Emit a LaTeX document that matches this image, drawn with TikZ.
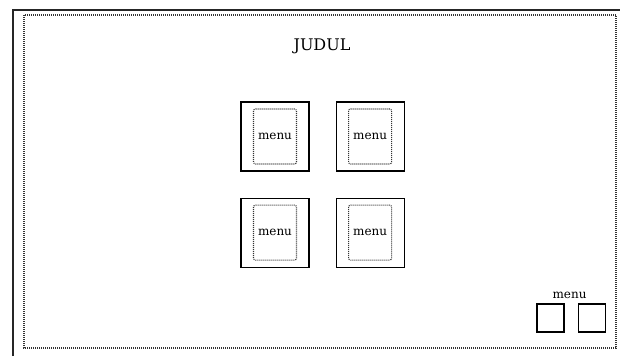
\documentclass[tikz,border=0pt]{standalone}
\usepackage{fontspec}
\setmainfont{DejaVu Serif}
\usetikzlibrary{positioning}

\begin{document}
\begin{tikzpicture}[x=1pt, y=-1pt, font=\small,
    node distance=26pt,
    frame/.style={draw=black!85, line width=1.3pt},
    dotline/.style={draw=black!80, line width=1.1pt, dash pattern=on 1pt off 1pt},
    menubox/.style={draw, line width=1.1pt, minimum width=68pt, minimum height=69pt, inner sep=0pt},
    menuin/.style={dotline, rounded corners=2pt, minimum width=43pt, minimum height=55pt, inner sep=0pt, font=\fontsize{12}{14}\selectfont},
    smallbox/.style={draw, line width=1.1pt, minimum width=27pt, minimum height=28pt, inner sep=0pt}
]
    \useasboundingbox (0,0) rectangle (620,356);
    \fill[white] (0,0) rectangle (620,356);
    % halaman
    \draw[frame] (13,356) -- (13,10) -- (620,10);
    \draw[dotline] (24,15) rectangle (616,348);
    \node[font=\fontsize{16}{19}\selectfont] (judul) at (322,46) {JUDUL};

    % menu utama
    \node[menubox] (m1) at (275,136.5) {};
    \node[menubox, right=of m1] (m2) {};
    \node[menubox, below=of m1] (m3) {};
    \node[menubox, below=of m2] (m4) {};
    \node[menuin] (t1) at (m1.center) {menu};
    \node[menuin] (t2) at (m2.center) {menu};
    \node[menuin] (t3) at (m3.center) {menu};
    \node[menuin] (t4) at (m4.center) {menu};

    % tombol kecil
    \node[smallbox] (s1) at (550.5,318) {};
    \node[smallbox, right=13pt of s1] (s2) {};
    \node[above=1pt of s1.north east, anchor=south, xshift=5pt, font=\fontsize{12}{14}\selectfont] (slabel) {menu};
\end{tikzpicture}
\end{document}
